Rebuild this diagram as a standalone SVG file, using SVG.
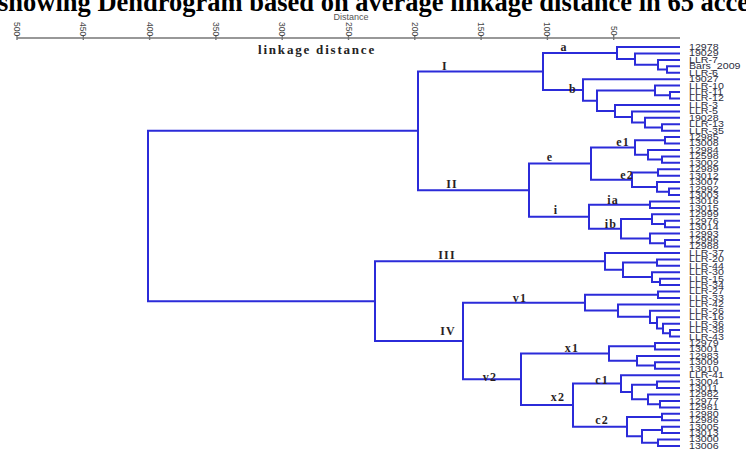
<svg xmlns="http://www.w3.org/2000/svg" width="746" height="450" viewBox="0 0 746 450">
<style>
.title{font-family:"Liberation Serif","Times New Roman",serif;font-weight:bold;font-size:26.5px;fill:#000}
.axt{font-family:"Liberation Sans",Arial,sans-serif;font-size:8.5px;fill:#444}
.axl{font-family:"Liberation Sans",Arial,sans-serif;font-size:9px;fill:#555}
.ld{font-family:"Liberation Serif","Times New Roman",serif;font-weight:bold;font-size:13px;letter-spacing:1.8px;fill:#222}
.cl{font-family:"Liberation Serif","Times New Roman",serif;font-weight:bold;font-size:12px;letter-spacing:1.2px;fill:#2a1f1f;text-anchor:middle}
.lf{font-family:"Liberation Sans",Arial,sans-serif;font-size:8.2px;fill:#2e2e3e}
.br{fill:none;stroke:#2b2bd9;stroke-width:2}
.ax{stroke:#777;stroke-width:1.4;fill:none}
</style>
<rect width="746" height="450" fill="#fff"/>
<text class="title" x="-2" y="11">showing Dendrogram based on average linkage distance in 65 acce</text>
<text class="axl" x="351" y="20" text-anchor="middle">Distance</text>
<g id="axis">
<path class="ax" d="M17 38 H680 M17 35 V40 M83.3 35 V40 M149.6 35 V40 M215.9 35 V40 M282.2 35 V40 M348.5 35 V40 M414.8 35 V40 M481.1 35 V40 M547.4 35 V40 M613.7 35 V40"/>
<g class="axt">
<text transform="translate(14 22) rotate(90)">500</text>
<text transform="translate(80.3 22) rotate(90)">450</text>
<text transform="translate(146.6 22) rotate(90)">400</text>
<text transform="translate(212.9 22) rotate(90)">350</text>
<text transform="translate(279.2 22) rotate(90)">300</text>
<text transform="translate(345.5 22) rotate(90)">250</text>
<text transform="translate(411.8 22) rotate(90)">200</text>
<text transform="translate(478.1 22) rotate(90)">150</text>
<text transform="translate(544.4 22) rotate(90)">100</text>
<text transform="translate(610.7 26) rotate(90)">50</text>
</g>
<text class="ld" x="258" y="54">linkage distance</text>
</g>
<g id="connectors" class="br">
<path d="M680 66.3H667V72.7H680M680 59.9H658V69.5H667M680 53.4H635V64.7H658M680 47H617V59.05H635"/>
<path d="M680 92H670V98.5H680M680 85.6H655V95.25H670M680 124.2H662V130.7H680M680 117.8H645V127.45H662M680 111.4H632V122.6H645M680 104.9H615V117H632M655 90.4H597V110.95H615M680 79.2H583V100.7H597M617 53H543V89.95H583"/>
<path d="M680 137.1H665V143.5H680M680 156.4H662V162.8H680M680 150H648V159.6H662M665 140.3H635V154.8H648M680 169.3H658V175.7H680M680 188.6H669V195H680M680 182.1H657V191.8H669M658 172.5H632V186.95H657M635 147.55H591V179.7H632"/>
<path d="M680 201.4H650V207.9H680M680 220.7H665V227.2H680M680 214.3H652V223.95H665M680 240.1H665V246.5H680M680 233.6H650V243.3H665M652 219.1H621V238.45H650M650 204.65H589V228.8H621M591 163.6H529V216.7H589M543 71.5H418V190.15H529"/>
<path d="M680 259.4H657V265.8H680M680 278.7H660V285.1H680M680 272.2H652V281.9H660M657 262.6H623V277.05H652M680 252.9H605V269.8H623"/>
<path d="M680 291.5H658V298H680M680 330.1H670V336.6H680M680 323.7H663V333.35H670M680 317.3H657V328.5H663M680 310.8H650V322.9H657M680 304.4H618V316.85H650M658 294.75H585V310.6H618"/>
<path d="M680 343H655V349.4H680M680 362.3H655V368.7H680M680 355.9H637V365.5H655M655 346.2H609V360.7H637"/>
<path d="M680 381.6H657V388H680M680 400.9H660V407.4H680M680 394.5H648V404.15H660M657 384.8H632V399.3H648M680 375.2H621V392.05H632"/>
<path d="M680 413.8H662V420.2H680M680 426.7H662V433.1H680M680 439.5H658V446H680M662 429.9H642V442.75H658M662 417H627V436.3H642M621 383.6H573V426.65H627M609 353.45H521V405.1H573M585 302.7H463V379.3H521M605 261.35H375V341H463M418 130.8H148V301.2H375"/>
</g>
<g id="cluster-labels">
<text class="cl" x="445" y="70">I</text>
<text class="cl" x="452" y="188">II</text>
<text class="cl" x="564" y="51">a</text>
<text class="cl" x="573" y="93">b</text>
<text class="cl" x="550" y="161">e</text>
<text class="cl" x="556" y="214">i</text>
<text class="cl" x="623" y="146">e1</text>
<text class="cl" x="627" y="179">e2</text>
<text class="cl" x="613" y="204">ia</text>
<text class="cl" x="611" y="228">ib</text>
<text class="cl" x="447" y="259">III</text>
<text class="cl" x="448" y="335">IV</text>
<text class="cl" x="520" y="302">v1</text>
<text class="cl" x="490" y="381">v2</text>
<text class="cl" x="572" y="352">x1</text>
<text class="cl" x="558" y="401">x2</text>
<text class="cl" x="602" y="384">c1</text>
<text class="cl" x="602" y="424">c2</text>
</g>
<g id="leaves" class="lf" transform="translate(689 3) scale(1.3 1)">
<g id="leaf-12978"><text y="47">12978</text></g>
<g id="leaf-19029"><text y="53.4">19029</text></g>
<g id="leaf-LLR-7"><text y="59.9">LLR-7</text></g>
<g id="leaf-Bars_2009"><text y="66.3">Bars_2009</text></g>
<g id="leaf-LLR-6"><text y="72.7">LLR-6</text></g>
<g id="leaf-19027"><text y="79.2">19027</text></g>
<g id="leaf-LLR-10"><text y="85.6">LLR-10</text></g>
<g id="leaf-LLR-11"><text y="92">LLR-11</text></g>
<g id="leaf-LLR-12"><text y="98.5">LLR-12</text></g>
<g id="leaf-LLR-3"><text y="104.9">LLR-3</text></g>
<g id="leaf-LLR-5"><text y="111.4">LLR-5</text></g>
<g id="leaf-19028"><text y="117.8">19028</text></g>
<g id="leaf-LLR-13"><text y="124.2">LLR-13</text></g>
<g id="leaf-LLR-35"><text y="130.7">LLR-35</text></g>
<g id="leaf-12985"><text y="137.1">12985</text></g>
<g id="leaf-13008"><text y="143.5">13008</text></g>
<g id="leaf-12984"><text y="150">12984</text></g>
<g id="leaf-12598"><text y="156.4">12598</text></g>
<g id="leaf-13002"><text y="162.8">13002</text></g>
<g id="leaf-12989"><text y="169.3">12989</text></g>
<g id="leaf-13012"><text y="175.7">13012</text></g>
<g id="leaf-13007"><text y="182.1">13007</text></g>
<g id="leaf-12992"><text y="188.6">12992</text></g>
<g id="leaf-13003"><text y="195">13003</text></g>
<g id="leaf-13016"><text y="201.4">13016</text></g>
<g id="leaf-13015"><text y="207.9">13015</text></g>
<g id="leaf-12999"><text y="214.3">12999</text></g>
<g id="leaf-12976"><text y="220.7">12976</text></g>
<g id="leaf-13014"><text y="227.2">13014</text></g>
<g id="leaf-12993"><text y="233.6">12993</text></g>
<g id="leaf-12996"><text y="240.1">12996</text></g>
<g id="leaf-12988"><text y="246.5">12988</text></g>
<g id="leaf-LLR-37"><text y="252.9">LLR-37</text></g>
<g id="leaf-LLR-20"><text y="259.4">LLR-20</text></g>
<g id="leaf-LLR-44"><text y="265.8">LLR-44</text></g>
<g id="leaf-LLR-30"><text y="272.2">LLR-30</text></g>
<g id="leaf-LLR-15"><text y="278.7">LLR-15</text></g>
<g id="leaf-LLR-34"><text y="285.1">LLR-34</text></g>
<g id="leaf-LLR-27"><text y="291.5">LLR-27</text></g>
<g id="leaf-LLR-33"><text y="298">LLR-33</text></g>
<g id="leaf-LLR-42"><text y="304.4">LLR-42</text></g>
<g id="leaf-LLR-26"><text y="310.8">LLR-26</text></g>
<g id="leaf-LLR-16"><text y="317.3">LLR-16</text></g>
<g id="leaf-LLR-36"><text y="323.7">LLR-36</text></g>
<g id="leaf-LLR-38"><text y="330.1">LLR-38</text></g>
<g id="leaf-LLR-43"><text y="336.6">LLR-43</text></g>
<g id="leaf-12979"><text y="343">12979</text></g>
<g id="leaf-13001"><text y="349.4">13001</text></g>
<g id="leaf-12983"><text y="355.9">12983</text></g>
<g id="leaf-13009"><text y="362.3">13009</text></g>
<g id="leaf-13010"><text y="368.7">13010</text></g>
<g id="leaf-LLR-41"><text y="375.2">LLR-41</text></g>
<g id="leaf-13004"><text y="381.6">13004</text></g>
<g id="leaf-13011"><text y="388">13011</text></g>
<g id="leaf-12982"><text y="394.5">12982</text></g>
<g id="leaf-12977"><text y="400.9">12977</text></g>
<g id="leaf-12981"><text y="407.4">12981</text></g>
<g id="leaf-12980"><text y="413.8">12980</text></g>
<g id="leaf-12986"><text y="420.2">12986</text></g>
<g id="leaf-13005"><text y="426.7">13005</text></g>
<g id="leaf-13013"><text y="433.1">13013</text></g>
<g id="leaf-13000"><text y="439.5">13000</text></g>
<g id="leaf-13006"><text y="446">13006</text></g>
</g>
</svg>
